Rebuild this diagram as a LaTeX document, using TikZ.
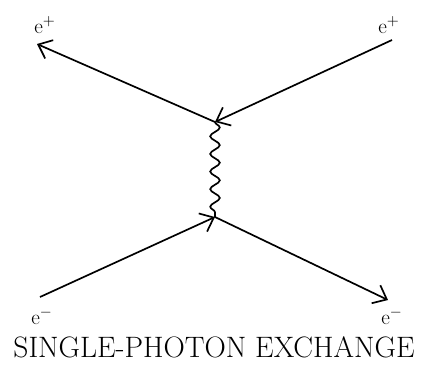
\documentclass[tikz,border=0pt]{standalone}
\usetikzlibrary{arrows.meta,decorations.pathmorphing}
\begin{document}
\begin{tikzpicture}
  [x=0.025cm,y=-0.025cm,
   fermion/.style={line width=1.2pt,-{Straight Barb[length=3mm,width=5mm,line width=1.2pt]}},
   photon/.style={line width=1.2pt,decorate,decoration={snake,amplitude=1.2mm,segment length=4.4mm}},
   every node/.style={inner sep=0pt}]
  \useasboundingbox (0,0) rectangle (422,370);

  % Vertices
  \coordinate (v1) at (215,122);
  \coordinate (v2) at (215,217);

  % Outer ends of the lines
  \coordinate (n1) at (37,44);
  \coordinate (n2) at (392,40);
  \coordinate (n3) at (40,297);
  \coordinate (n4) at (388,300);

  % Particle labels
  \node (l1) at (45,25) {\fontsize{15}{17}\selectfont e$^+$};
  \node (l2) at (389,25) {\fontsize{15}{17}\selectfont e$^+$};
  \node (l3) at (42,316) {\fontsize{15}{17}\selectfont e$^-$};
  \node (l4) at (392,316) {\fontsize{15}{17}\selectfont e$^-$};

  % Fermion lines
  \draw[fermion] (n2) -- (v1);
  \draw[fermion] (v1) -- (n1);
  \draw[fermion] (n3) -- (v2);
  \draw[fermion] (v2) -- (n4);

  % Exchanged photon
  \draw[photon] (v1) -- (v2);

  % Caption
  \node (cap) at (214,347) {\fontsize{21}{24}\selectfont SINGLE-PHOTON EXCHANGE};
\end{tikzpicture}
\end{document}
